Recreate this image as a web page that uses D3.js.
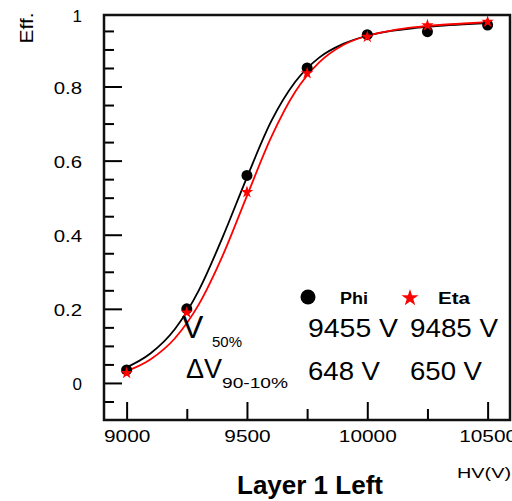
<!DOCTYPE html>
<html>
<head>
<meta charset="utf-8">
<script src="https://cdn.jsdelivr.net/npm/d3@7"></script>
<style>
  body { margin: 0; background: #fff; }
  text { font-family: "Liberation Sans", Arial, Helvetica, sans-serif; fill: #000; }
</style>
</head>
<body>
<div class="chart"></div>
<script>
// measured points (HV in volts, efficiency)
const hv_points = [9000, 9250, 9500, 9750, 10000, 10250, 10500]
const phi_eff = [0.035, 0.20, 0.56, 0.85, 0.94, 0.948, 0.966]
const eta_eff = [0.027, 0.19, 0.515, 0.836, 0.934, 0.965, 0.975]

// fit curves
const fit_hv = [8980, 9100, 9200, 9300, 9400, 9500, 9600, 9700, 9800, 9900, 10000, 10100, 10200, 10300, 10400, 10500]
const phi_fit = [0.036, 0.080, 0.145, 0.250, 0.395, 0.555, 0.705, 0.812, 0.878, 0.915, 0.937, 0.950, 0.958, 0.964, 0.968, 0.971]
const eta_fit = [0.027, 0.064, 0.120, 0.212, 0.345, 0.505, 0.662, 0.785, 0.865, 0.912, 0.937, 0.951, 0.960, 0.966, 0.970, 0.974]

const x_major = [9000, 9500, 10000, 10500]
const x_minor = [9250, 9750, 10250]
const y_labels = [0, 0.2, 0.4, 0.6, 0.8, 1]
const y_minor = [-0.05, 0.05, 0.1, 0.15, 0.25, 0.3, 0.35, 0.45, 0.5, 0.55, 0.65, 0.7, 0.75, 0.85, 0.9, 0.95]

const legend_names = ["Phi", "Eta"]
const v50_values = ["9455 V", "9485 V"]
const dv_values = ["648 V", "650 V"]

const chart_param = {
    width: 512,
    height: 501,
    frame: { left: 104, right: 510, top: 15, bottom: 420 }
}

const x = d3.scaleLinear()
            .domain([8906, 10593])
            .range([chart_param.frame.left, chart_param.frame.right])
const y = d3.scaleLinear()
            .domain([-0.1, 0.993])
            .range([chart_param.frame.bottom, chart_param.frame.top])

// stretch text horizontally like the original picture
let stretch = (sel, k) => sel
    .attr("lengthAdjust", "spacingAndGlyphs")
    .attr("textLength", function () { return this.getComputedTextLength() * k })

const svg = d3.select(".chart").append("svg")
    .attr("width", chart_param.width)
    .attr("height", chart_param.height)

svg.append("rect").attr("width", chart_param.width).attr("height", chart_param.height).attr("fill", "#fff")

// axes with inward ticks
const y_axis = svg.append("g")
    .attr("transform", `translate(${chart_param.frame.left},0)`)
    .call(d3.axisLeft(y).tickValues(y_labels).tickSizeInner(-18).tickSizeOuter(0).tickPadding(22)
          .tickFormat(d3.format("")))
y_axis.select(".domain").remove()
y_axis.selectAll("line").attr("stroke-width", 2)
y_axis.selectAll(".tick").filter(d => d > 0.99).select("line").remove()
y_axis.selectAll("text").attr("font-size", 17).attr("dy", "0.40em")
y_axis.selectAll("text").filter(d => d > 0 && d < 1).call(stretch, 1.2)
y_axis.selectAll("text").filter(d => d > 0.99).attr("dy", "0.55em")

const y_axis_minor = svg.append("g")
    .attr("transform", `translate(${chart_param.frame.left},0)`)
    .call(d3.axisLeft(y).tickValues(y_minor).tickSizeInner(-10).tickSizeOuter(0).tickFormat(""))
y_axis_minor.select(".domain").remove()
y_axis_minor.selectAll("line").attr("stroke-width", 2)

const x_axis = svg.append("g")
    .attr("transform", `translate(0,${chart_param.frame.bottom})`)
    .call(d3.axisBottom(x).tickValues(x_major).tickSizeInner(-18).tickSizeOuter(0).tickPadding(11)
          .tickFormat(d3.format("")))
x_axis.select(".domain").remove()
x_axis.selectAll("line").attr("stroke-width", 2)
x_axis.selectAll("text").attr("font-size", 16).call(stretch, 1.3)

const x_axis_minor = svg.append("g")
    .attr("transform", `translate(0,${chart_param.frame.bottom})`)
    .call(d3.axisBottom(x).tickValues(x_minor).tickSizeInner(-11).tickSizeOuter(0).tickFormat(""))
x_axis_minor.select(".domain").remove()
x_axis_minor.selectAll("line").attr("stroke-width", 2)

// frame
svg.append("rect")
    .attr("x", x.range()[0]).attr("y", y.range()[1])
    .attr("width", x.range()[1] - x.range()[0])
    .attr("height", y.range()[0] - y.range()[1])
    .attr("fill", "none").attr("stroke", "#111").attr("stroke-width", 2.5)

// fit curves
const line = d3.line().x(d => x(d[0])).y(d => y(d[1])).curve(d3.curveMonotoneX)
svg.append("path").datum(d3.zip(fit_hv, phi_fit))
    .attr("d", line).attr("fill", "none").attr("stroke", "#000").attr("stroke-width", 1.8)
svg.append("path").datum(d3.zip(fit_hv, eta_fit))
    .attr("d", line).attr("fill", "none").attr("stroke", "#f00").attr("stroke-width", 1.8)

// markers
svg.selectAll(".phi").data(d3.zip(hv_points, phi_eff)).enter()
    .append("circle").classed("phi", true)
    .attr("cx", d => x(d[0])).attr("cy", d => y(d[1])).attr("r", 5.5).attr("fill", "#000")
svg.selectAll(".eta").data(d3.zip(hv_points, eta_eff)).enter()
    .append("path").classed("eta", true)
    .attr("d", d3.symbol(d3.symbolStar, 48))
    .attr("transform", d => `translate(${x(d[0])},${y(d[1])})`)
    .attr("fill", "#f00")

// legend
svg.append("circle").attr("cx", 308).attr("cy", 297).attr("r", 7.5).attr("fill", "#000")
svg.append("path").attr("d", d3.symbol(d3.symbolStar, 90))
    .attr("transform", "translate(410,298)").attr("fill", "#f00")
svg.selectAll(".leg").data(legend_names).enter()
    .append("text").classed("leg", true)
    .attr("x", (d, i) => i ? 438 : 340).attr("y", 304)
    .attr("font-size", 16).attr("font-weight", "bold")
    .attr("textLength", (d, i) => i ? 32 : 28).attr("lengthAdjust", "spacingAndGlyphs")
    .text(d => d)

// fit results
svg.selectAll(".v50").data(v50_values).enter()
    .append("text").classed("v50", true)
    .attr("x", (d, i) => i ? 410 : 308).attr("y", 337)
    .attr("font-size", 26)
    .attr("textLength", (d, i) => i ? 88 : 90).attr("lengthAdjust", "spacingAndGlyphs")
    .text(d => d)
svg.selectAll(".dv").data(dv_values).enter()
    .append("text").classed("dv", true)
    .attr("x", (d, i) => i ? 410 : 308).attr("y", 380)
    .attr("font-size", 26)
    .attr("textLength", 72).attr("lengthAdjust", "spacingAndGlyphs")
    .text(d => d)

svg.append("text").attr("x", 182).attr("y", 338).attr("font-size", 32).text("V")
svg.append("text").attr("x", 212).attr("y", 347).attr("font-size", 14)
    .attr("textLength", 30).attr("lengthAdjust", "spacingAndGlyphs").text("50%")
svg.append("text").attr("x", 186).attr("y", 378).attr("font-size", 27).text("\u0394V")
svg.append("text").attr("x", 222).attr("y", 388).attr("font-size", 14)
    .attr("textLength", 66).attr("lengthAdjust", "spacingAndGlyphs").text("90-10%")

// axis titles
svg.append("text").attr("transform", "translate(33,28) rotate(-90)")
    .attr("text-anchor", "middle").attr("font-size", 18)
    .attr("textLength", 31).attr("lengthAdjust", "spacingAndGlyphs").text("Eff.")
svg.append("text").attr("x", 457).attr("y", 478).attr("font-size", 14)
    .attr("textLength", 54).attr("lengthAdjust", "spacingAndGlyphs").text("HV(V)")

svg.append("text").attr("x", 310).attr("y", 494)
    .attr("text-anchor", "middle").attr("font-size", 26).attr("font-weight", "bold")
    .text("Layer 1 Left")
</script>
</body>
</html>
